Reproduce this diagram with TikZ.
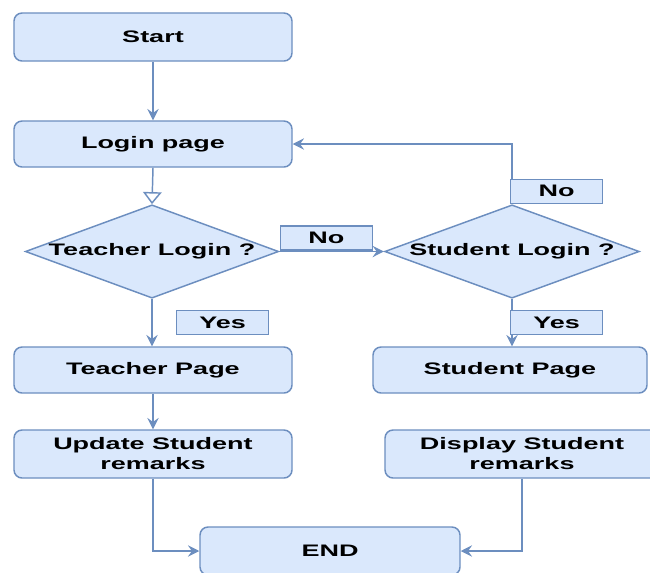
\documentclass[tikz,border=0pt]{standalone}
\usepackage{fontspec}
\setmainfont{Liberation Sans}[FakeStretch=1.62]
\definecolor{boxfill}{HTML}{DAE8FC}
\definecolor{boxline}{HTML}{6C8EBF}
\usetikzlibrary{arrows.meta,shapes.geometric}

\begin{document}
\begin{tikzpicture}[x=0.75pt, y=-0.75pt,
      font=\fontsize{12.5}{15}\selectfont\bfseries,
      arr/.style={-{Stealth[length=8.5pt,width=8.5pt,inset=3pt]}, line width=1.1pt, boxline},
      opn/.style={-{Triangle[open,length=9pt,width=14pt]}, line width=1.1pt, boxline},
      box/.style={draw=boxline, line width=1.1pt, rounded corners=6pt, fill=boxfill,
                  text=black, align=center, inner sep=0pt,
                  minimum width=208.5pt, minimum height=35pt},
      dia/.style={diamond, draw=boxline, line width=1.1pt, fill=boxfill, text=black,
                  inner sep=0pt, minimum width=190pt, minimum height=70pt},
      lbl/.style={draw=boxline, line width=1.1pt, fill=boxfill, text=black,
                  inner sep=0pt, minimum width=69pt, minimum height=18pt}
    ]
    \useasboundingbox (0,0) rectangle (650,572);
    % left column
    \node[box, minimum height=36pt] (start) at (153,37) {Start};
    \node[box, minimum height=34.5pt] (login) at (153,144) {Login page};
    \node[dia, label=center:{Teacher Login ?}] (tq) at (152,251.5) {};
    \node[box, minimum height=34.5pt] (tpage) at (153,370) {Teacher Page};
    \node[box, minimum height=36pt] (upd) at (153,454) {Update Student\\remarks};
    % right column
    \node[dia, minimum width=191pt, label=center:{Student Login ?}] (sq) at (512,251.5) {};
    \node[box, minimum width=205.5pt, minimum height=34.5pt] (spage) at (510,370) {Student Page};
    \node[box, minimum width=205.5pt, minimum height=36pt] (disp) at (522,454) {Display Student\\remarks};
    % bottom
    \node[box, minimum width=195pt, minimum height=36pt] (end) at (330,551) {END};

    % start -> login -> teacher
    \draw[arr] (start.south) -- (login.north);
    \draw[opn] (login.south) -- (tq.north);
    % teacher -> student
    \draw[arr] (tq.east) -- node[lbl, pos=0.45, anchor=south, yshift=0.5pt] {No} (sq.west);
    % student -> login
    \draw[arr] (sq.north) |- node[lbl, pos=0.107, anchor=west, xshift=-1.5pt] {No} (login.east);
    % yes branches
    \draw[arr] (tq.south) -- node[lbl, midway, anchor=west, xshift=18pt] {Yes} (tq.south |- tpage.north);
    \draw[arr] (sq.south) -- node[lbl, midway, anchor=west, xshift=-1.5pt] {Yes} (sq.south |- spage.north);
    \draw[arr] (tpage.south) -- (upd.north);
    % remarks -> end
    \draw[arr] (upd.south) |- (end.west);
    \draw[arr] (disp.south) |- (end.east);
  \end{tikzpicture}
\end{document}
